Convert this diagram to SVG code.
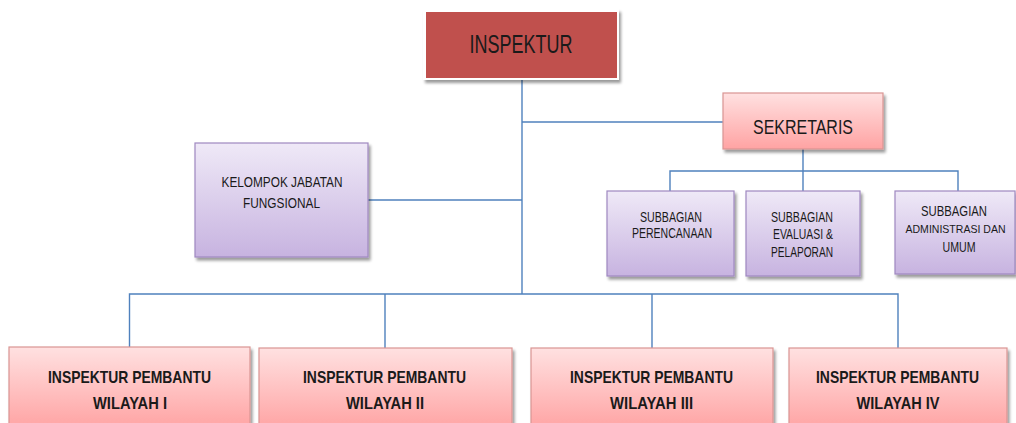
<svg xmlns="http://www.w3.org/2000/svg" width="1016" height="423" viewBox="0 0 1016 423">
<defs>
<linearGradient id="pink" x1="0" y1="0" x2="0" y2="1">
<stop offset="0" stop-color="#FFE1E1"/>
<stop offset="1" stop-color="#FFA3A3"/>
</linearGradient>
<linearGradient id="pinkB" x1="0" y1="0" x2="0" y2="1">
<stop offset="0" stop-color="#FFE1E1"/>
<stop offset="0.8" stop-color="#FFAAAA"/>
<stop offset="1" stop-color="#FFA3A3"/>
</linearGradient>
<linearGradient id="purple" x1="0" y1="0" x2="0" y2="1">
<stop offset="0" stop-color="#EFE9F7"/>
<stop offset="1" stop-color="#C7B3E0"/>
</linearGradient>
<filter id="sh" x="-10%" y="-10%" width="125%" height="130%">
<feGaussianBlur in="SourceAlpha" stdDeviation="1.5"/>
<feOffset dx="1.5" dy="2.5" result="b"/>
<feComponentTransfer><feFuncA type="linear" slope="0.4"/></feComponentTransfer>
<feMerge><feMergeNode/><feMergeNode in="SourceGraphic"/></feMerge>
</filter>
</defs>
<style>
.ln{stroke:#4F81BD;stroke-width:1.4;fill:none}
.pk{fill:url(#pink);stroke:#D99593;stroke-width:1.2}
.pkb{fill:url(#pinkB);stroke:#D99593;stroke-width:1.2}
.pu{fill:url(#purple);stroke:#9F88C0;stroke-width:1.2}
.t{font-family:"Liberation Sans",Arial,sans-serif;fill:#1a1a1a;text-anchor:middle}
.s{font-size:14px}
.b{font-size:17px;font-weight:bold}
</style>
<g id="connectors">
<path class="ln" d="M522,80 V294"/>
<path class="ln" d="M522,122 H723"/>
<path class="ln" d="M368,200 H522"/>
<path class="ln" d="M803,149 V171"/>
<path class="ln" d="M670,191 V171 H958 V191"/>
<path class="ln" d="M803,171 V191"/>
<path class="ln" d="M129.5,347 V294 H898 V348"/>
<path class="ln" d="M385,294 V348"/>
<path class="ln" d="M652,294 V348"/>
</g>
<g id="inspektur">
<rect x="423" y="9" width="196" height="71" fill="#ffffff" filter="url(#sh)"/>
<rect x="426" y="12" width="191" height="66" fill="#C0504D"/>
<text class="t" x="521" y="53" font-size="26" textLength="103" lengthAdjust="spacingAndGlyphs">INSPEKTUR</text>
</g>
<g id="sekretaris">
<rect class="pk" x="723" y="93" width="160" height="56" filter="url(#sh)"/>
<text class="t" x="803" y="134" font-size="20" textLength="100" lengthAdjust="spacingAndGlyphs">SEKRETARIS</text>
</g>
<g id="kelompok">
<rect class="pu" x="195" y="143" width="173" height="114" filter="url(#sh)"/>
<text class="t s" x="282" y="187" textLength="121" lengthAdjust="spacingAndGlyphs">KELOMPOK JABATAN</text>
<text class="t s" x="281.5" y="208" textLength="77" lengthAdjust="spacingAndGlyphs">FUNGSIONAL</text>
</g>
<g id="sub-perencanaan">
<rect class="pu" x="607" y="191" width="127" height="85" filter="url(#sh)"/>
<text class="t s" x="671" y="222" textLength="62" lengthAdjust="spacingAndGlyphs">SUBBAGIAN</text>
<text class="t s" x="672" y="238" textLength="80" lengthAdjust="spacingAndGlyphs">PERENCANAAN</text>
</g>
<g id="sub-evaluasi">
<rect class="pu" x="746" y="191" width="114" height="85" filter="url(#sh)"/>
<text class="t s" x="802" y="222" textLength="62" lengthAdjust="spacingAndGlyphs">SUBBAGIAN</text>
<text class="t s" x="803" y="239" textLength="60" lengthAdjust="spacingAndGlyphs">EVALUASI &amp;</text>
<text class="t s" x="802" y="257" textLength="62" lengthAdjust="spacingAndGlyphs">PELAPORAN</text>
</g>
<g id="sub-administrasi">
<rect class="pu" x="895" y="191" width="120" height="83" filter="url(#sh)"/>
<text class="t s" x="954" y="216" textLength="66" lengthAdjust="spacingAndGlyphs">SUBBAGIAN</text>
<text class="t" x="955.5" y="233" font-size="11.5" textLength="100" lengthAdjust="spacingAndGlyphs">ADMINISTRASI DAN</text>
<text class="t s" x="959" y="252" textLength="33" lengthAdjust="spacingAndGlyphs">UMUM</text>
</g>
<g id="wilayah-1">
<rect class="pkb" x="9" y="347" width="241" height="90" filter="url(#sh)"/>
<text class="t b" x="129.5" y="383" textLength="163" lengthAdjust="spacingAndGlyphs">INSPEKTUR PEMBANTU</text>
<text class="t b" x="130" y="409" textLength="74" lengthAdjust="spacingAndGlyphs">WILAYAH I</text>
</g>
<g id="wilayah-2">
<rect class="pkb" x="259" y="348" width="253" height="90" filter="url(#sh)"/>
<text class="t b" x="384.5" y="383" textLength="163" lengthAdjust="spacingAndGlyphs">INSPEKTUR PEMBANTU</text>
<text class="t b" x="385" y="409" textLength="78" lengthAdjust="spacingAndGlyphs">WILAYAH II</text>
</g>
<g id="wilayah-3">
<rect class="pkb" x="531" y="348" width="242" height="90" filter="url(#sh)"/>
<text class="t b" x="651.5" y="383" textLength="163" lengthAdjust="spacingAndGlyphs">INSPEKTUR PEMBANTU</text>
<text class="t b" x="651.5" y="409" textLength="83" lengthAdjust="spacingAndGlyphs">WILAYAH III</text>
</g>
<g id="wilayah-4">
<rect class="pkb" x="789" y="348" width="218" height="90" filter="url(#sh)"/>
<text class="t b" x="897.5" y="383" textLength="163" lengthAdjust="spacingAndGlyphs">INSPEKTUR PEMBANTU</text>
<text class="t b" x="898" y="409" textLength="83" lengthAdjust="spacingAndGlyphs">WILAYAH IV</text>
</g>
</svg>
